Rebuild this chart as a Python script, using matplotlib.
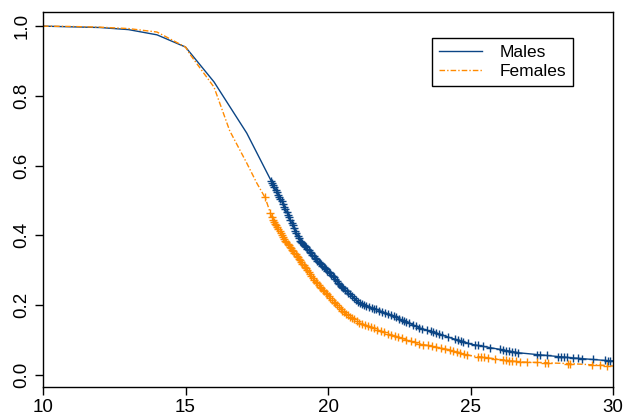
import numpy as np
import matplotlib
matplotlib.use('Agg')
import matplotlib.pyplot as plt

plt.rcParams['font.family'] = ['Liberation Sans', 'DejaVu Sans']

# survival estimates
male_age = [10, 11, 12, 13, 14, 15, 16, 17.15, 18, 18.4, 19.0, 19.6,
            20.2, 20.4, 21.1, 22.2, 23.2, 24.3, 25.0, 26.7, 28.5, 29.9, 30]
male_surv = [1.0, 0.998, 0.996, 0.99, 0.975, 0.94, 0.84, 0.693,
             0.557, 0.493, 0.387, 0.33, 0.28, 0.258, 0.206, 0.172, 0.135, 0.106,
             0.088, 0.063, 0.049, 0.040, 0.040]
female_age = [10, 11, 12, 13, 14, 15, 15.15, 16, 16.55, 17.15, 17.5, 17.8, 18.05,
              18.5, 19.0, 19.6, 20.0, 20.5, 21.1, 22.2, 23.2, 24.3, 25.0, 26.7,
              28.5, 29.9, 30]
female_surv = [1.0, 0.999, 0.997, 0.993, 0.983, 0.94, 0.92, 0.825, 0.70, 0.607,
               0.55, 0.507, 0.446, 0.385, 0.33, 0.264, 0.228, 0.183, 0.149, 0.115,
               0.089, 0.071, 0.055, 0.037, 0.032, 0.026, 0.025]

# censoring times
male_cens = [18.00, 18.04, 18.08, 18.12, 18.16, 18.20, 18.25, 18.29, 18.33, 18.37,
             18.42, 18.46, 18.50, 18.55, 18.59, 18.63, 18.67, 18.72, 18.76, 18.80,
             18.85, 18.89, 18.93, 18.97, 19.02, 19.06, 19.10, 19.15, 19.19, 19.23,
             19.28, 19.32, 19.36, 19.41, 19.45, 19.50, 19.54, 19.58, 19.63, 19.67,
             19.71, 19.76, 19.80, 19.85, 19.89, 19.93, 19.98, 20.02, 20.07, 20.11,
             20.16, 20.20, 20.25, 20.30, 20.34, 20.39, 20.44, 20.49, 20.54, 20.59,
             20.65, 20.71, 20.77, 20.84, 20.91, 20.98, 21.05, 21.13, 21.20, 21.28,
             21.35, 21.45, 21.55, 21.62, 21.70, 21.80, 21.90, 22.00, 22.10, 22.20,
             22.30, 22.40, 22.50, 22.60, 22.68, 22.75, 22.85, 22.98, 23.10, 23.20,
             23.30, 23.47, 23.60, 23.70, 23.80, 23.90, 24.00, 24.20, 24.46, 24.55,
             24.65, 24.74, 24.90, 25.16, 25.26, 25.44, 25.68, 26.04, 26.15, 26.25,
             26.35, 26.45, 26.56, 26.67, 27.33, 27.44, 27.68, 28.07, 28.18, 28.28,
             28.39, 28.60, 28.77, 28.90, 29.30, 29.72, 29.82, 29.90]
female_cens = [17.78, 17.98, 18.02, 18.06, 18.10, 18.14, 18.18, 18.22, 18.26, 18.30,
               18.34, 18.38, 18.42, 18.46, 18.50, 18.54, 18.58, 18.62, 18.66, 18.70,
               18.74, 18.78, 18.82, 18.86, 18.90, 18.94, 18.98, 19.02, 19.06, 19.10,
               19.14, 19.18, 19.22, 19.27, 19.32, 19.37, 19.42, 19.47, 19.52, 19.57,
               19.62, 19.67, 19.72, 19.77, 19.82, 19.87, 19.92, 19.97, 20.02, 20.08,
               20.14, 20.20, 20.26, 20.32, 20.38, 20.44, 20.50, 20.57, 20.64, 20.71,
               20.78, 20.85, 20.92, 21.00, 21.10, 21.20, 21.30, 21.40, 21.50, 21.60,
               21.72, 21.85, 21.95, 22.10, 22.20, 22.35, 22.45, 22.60, 22.75, 22.90,
               23.05, 23.20, 23.35, 23.50, 23.65, 23.80, 23.95, 24.10, 24.28, 24.40,
               24.52, 24.64, 24.76, 24.88, 25.26, 25.36, 25.46, 25.60, 25.86, 26.14,
               26.25, 26.36, 26.47, 26.58, 26.74, 26.98, 27.33, 27.60, 27.72, 28.42,
               28.49, 29.26, 29.54, 29.79]

blue = '#0b4585'
orange = '#ff8a00'

fig = plt.figure(figsize=(6.27, 4.2), dpi=100)
ax = fig.add_axes([0.0686, 0.0786, 0.9091, 0.8924])

ax.plot(male_age, male_surv, color=blue, lw=1.0, label='Males')
ax.plot(female_age, female_surv, color=orange, lw=1.0, ls='-.',
        dashes=(4, 1.5, 1, 1.5), label='Females')
ax.plot(male_cens, np.interp(male_cens, male_age, male_surv), ls='none',
        marker='+', ms=6, mew=1.0, color=blue)
ax.plot(female_cens, np.interp(female_cens, female_age, female_surv), ls='none',
        marker='+', ms=6, mew=1.0, color=orange)

ax.set_xlim(10, 30)
ax.set_ylim(-0.035, 1.04)
ax.set_xticks([10, 15, 20, 25, 30])
ax.set_yticks([0.0, 0.2, 0.4, 0.6, 0.8, 1.0])
ax.set_yticklabels(['0.0', '0.2', '0.4', '0.6', '0.8', '1.0'], rotation=90,
                   va='center')
ax.tick_params(labelsize=13.5, length=6, width=1, pad=3, color='black')
for s in ax.spines.values():
    s.set_linewidth(1.0)
    s.set_color('black')

ax.legend(loc='upper right', bbox_to_anchor=(0.93, 0.931), borderaxespad=0,
          fancybox=False, edgecolor='black', framealpha=1, fontsize=12.5,
          handlelength=2.5, handletextpad=1.0, borderpad=0.4, labelspacing=0.2)
ax.get_legend().get_frame().set_linewidth(1.0)

plt.savefig('out.png', dpi=100)
